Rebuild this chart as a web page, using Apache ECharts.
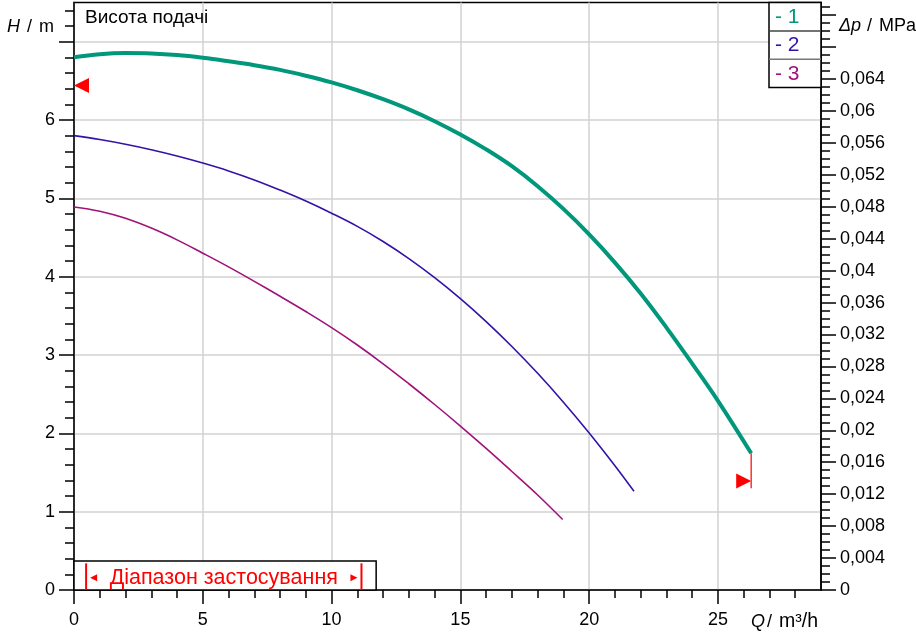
<!DOCTYPE html>
<html><head><meta charset="utf-8">
<script src="https://cdn.jsdelivr.net/npm/echarts@6/dist/echarts.min.js"></script>
<style>html,body{margin:0;padding:0;background:#fff}#c{width:916px;height:634px}</style>
</head><body><div id="c"></div>
<script>
// ---- data ----
const seriesNames = ['1', '2', '3'];
const seriesColors = ['#00977b', '#3412a8', '#a0127a'];
const seriesWidths = [4, 1.6, 1.6];

const q1 = [0,1,2,3,4,5,6,7,8,9,10,11,12,13,14,15,16,17,18,19,20,21,22,23,24,25,26.29];
const h1 = [6.80,6.84,6.855,6.85,6.83,6.795,6.75,6.70,6.64,6.565,6.48,6.38,6.265,6.135,5.985,5.815,5.625,5.41,5.155,4.865,4.54,4.18,3.785,3.35,2.89,2.415,1.745];

const q2 = [0,1,2,3,4,5,6,7,8,9,10,11,12,13,14,15,16,17,18,19,20,21,21.74];
const h2 = [5.80,5.75,5.69,5.62,5.54,5.45,5.35,5.235,5.105,4.965,4.81,4.642,4.449,4.231,3.988,3.72,3.427,3.109,2.766,2.398,2.005,1.587,1.26];

const q3 = [0,1,2,3,4,5,6,7,8,9,10,11,12,13,14,15,16,17,18,18.97];
const h3 = [4.89,4.835,4.745,4.62,4.47,4.30,4.125,3.94,3.75,3.555,3.35,3.128,2.888,2.633,2.368,2.093,1.808,1.513,1.213,0.90];

// operating limit markers [Q, H, direction]
const limitMarkers = [[0, 6.44, -1], [26.29, 1.39, 1]];
const endStop = [[26.29, 1.745, 1.30]];

// application range box
const rangeBoxQ = [0, 11.73];
const rangeBoxH = [0, 0.37];
const rangeQ = [0.47, 11.16];
const rangeBarH = 0.34;
const rangeText = 'Діапазон застосування';

// axes
const qMin = 0, qMax = 29;
const hMin = 0, hMax = 7.5;
const MPA_PER_M = 0.00981;
const xMajorTicks = [0, 5, 10, 15, 20, 25];
const xMinorTicks = [0,1,2,3,4,5,6,7,8,9,10,11,12,13,14,15,16,17,18,19,20,21,22,23,24,25,26,27,28];
const hMajorTicks = [0, 1, 2, 3, 4, 5, 6, 7];
const hLabelTicks = [0, 1, 2, 3, 4, 5, 6];
const hMinorTicks = Array.from({length: 38}, (_, i) => +(i * 0.2).toFixed(1));
const dpMajorTicks = Array.from({length: 19}, (_, i) => +(i * 0.004).toFixed(3));
const dpLabelTicks = dpMajorTicks.filter(v => v <= 0.0645);
const dpMinorTicks = Array.from({length: 74}, (_, i) => +(i * 0.001).toFixed(3));

const titleText = 'Висота подачі';

// ---- chart ----
const FONT = 'Liberation Sans, Arial, sans-serif';
const chart = echarts.init(document.getElementById('c'), null, {renderer: 'canvas'});

const lineSeries = [[q1, h1], [q2, h2], [q3, h3]].map((qh, i) => ({
  type: 'line',
  name: seriesNames[i],
  xAxisIndex: 0, yAxisIndex: 0,
  data: qh[0].map((q, k) => [q, qh[1][k]]),
  smooth: 0.4,
  showSymbol: false,
  silent: true,
  z: 5 - i,
  lineStyle: {color: seriesColors[i], width: seriesWidths[i], cap: 'butt'}
}));

const axisLineStyle = {color: '#000', width: 1.5};
const tickStyle = {color: '#000', width: 1.5};

const option = {
  animation: false,
  backgroundColor: '#fff',
  grid: {left: 74, right: 95, top: 2.5, bottom: 44, show: true, borderColor: '#000', borderWidth: 1.5, outerBoundsMode: 'none', containLabel: false},
  xAxis: [
    {type: 'value', min: qMin, max: qMax, position: 'bottom',
     axisLine: {show: true, onZero: false, lineStyle: axisLineStyle},
     axisTick: {show: true, customValues: xMinorTicks, length: 8, lineStyle: tickStyle},
     axisLabel: {show: false}, splitLine: {show: false}},
    {type: 'value', min: qMin, max: qMax, interval: 5, position: 'bottom',
     axisLine: {show: false, onZero: false},
     axisTick: {show: true, customValues: xMajorTicks, length: 14, lineStyle: tickStyle},
     axisLabel: {show: true, customValues: xMajorTicks, margin: 21, fontSize: 18, color: '#000', fontFamily: FONT},
     splitLine: {show: true, lineStyle: {color: '#d2d2d2', width: 1.5}}}
  ],
  yAxis: [
    {type: 'value', min: hMin, max: hMax, interval: 1, position: 'left',
     axisLine: {show: true, onZero: false, lineStyle: axisLineStyle},
     axisTick: {show: true, customValues: hMajorTicks, length: 15, lineStyle: tickStyle},
     axisLabel: {show: true, customValues: hLabelTicks, margin: 19, fontSize: 18, color: '#000', fontFamily: FONT},
     splitLine: {show: true, lineStyle: {color: '#d2d2d2', width: 1.5}}},
    {type: 'value', min: hMin, max: hMax, position: 'left',
     axisLine: {show: false, onZero: false},
     axisTick: {show: true, customValues: hMinorTicks, length: 9, lineStyle: tickStyle},
     axisLabel: {show: false}, splitLine: {show: false}},
    {type: 'value', min: 0, max: hMax * MPA_PER_M, position: 'right',
     axisLine: {show: true, onZero: false, lineStyle: axisLineStyle},
     axisTick: {show: true, customValues: dpMajorTicks, length: 15, lineStyle: tickStyle},
     axisLabel: {show: true, customValues: dpLabelTicks, margin: 19, fontSize: 18, color: '#000', fontFamily: FONT,
       formatter: v => String(+(+v).toFixed(3)).replace('.', ',')},
     splitLine: {show: false}},
    {type: 'value', min: 0, max: hMax * MPA_PER_M, position: 'right',
     axisLine: {show: false, onZero: false},
     axisTick: {show: true, customValues: dpMinorTicks, length: 9, lineStyle: tickStyle},
     axisLabel: {show: false}, splitLine: {show: false}}
  ],
  series: [
    ...lineSeries,
    {type: 'custom', xAxisIndex: 0, yAxisIndex: 0, silent: true, z: 8,
     data: limitMarkers,
     renderItem: (params, api) => {
       const p = api.coord([api.value(0), api.value(1)]);
       const d = api.value(2);
       return {type: 'polygon', shape: {points: [[p[0], p[1]], [p[0] - d * 15, p[1] - 7.5], [p[0] - d * 15, p[1] + 7.5]]},
               style: {fill: '#ff0000'}};
     }},
    {type: 'custom', xAxisIndex: 0, yAxisIndex: 0, silent: true, z: 8,
     data: endStop,
     renderItem: (params, api) => {
       const a = api.coord([api.value(0), api.value(1)]);
       const b = api.coord([api.value(0), api.value(2)]);
       return {type: 'line', shape: {x1: a[0], y1: a[1], x2: b[0], y2: b[1]}, style: {stroke: '#ff3030', lineWidth: 1.5}};
     }},
    {type: 'custom', xAxisIndex: 0, yAxisIndex: 0, silent: true, z: 9,
     data: [[rangeBoxQ[0], rangeBoxH[0], rangeBoxQ[1], rangeBoxH[1], rangeQ[0], rangeQ[1], rangeBarH]],
     renderItem: (params, api) => {
       const tl = api.coord([api.value(0), api.value(3)]);
       const br = api.coord([api.value(2), api.value(1)]);
       const l = api.coord([api.value(4), api.value(6)]);
       const r = api.coord([api.value(5), api.value(6)]);
       const yb = br[1];
       const yc = (l[1] + yb) / 2 + 1;
       return {type: 'group', children: [
         {type: 'rect', shape: {x: tl[0], y: tl[1], width: br[0] - tl[0], height: br[1] - tl[1]},
          style: {fill: '#fff', stroke: '#000', lineWidth: 1.5}},
         {type: 'line', shape: {x1: l[0], y1: l[1], x2: l[0], y2: yb}, style: {stroke: '#ff0000', lineWidth: 2}},
         {type: 'line', shape: {x1: r[0], y1: r[1], x2: r[0], y2: yb}, style: {stroke: '#ff0000', lineWidth: 2}},
         {type: 'polygon', shape: {points: [[l[0] + 4, yc], [l[0] + 11, yc - 3.5], [l[0] + 11, yc + 3.5]]}, style: {fill: '#ff0000'}},
         {type: 'polygon', shape: {points: [[r[0] - 4, yc], [r[0] - 11, yc - 3.5], [r[0] - 11, yc + 3.5]]}, style: {fill: '#ff0000'}},
         {type: 'text', x: (l[0] + r[0]) / 2, y: yc,
          style: {text: rangeText, fill: '#ff0000', fontSize: 21.5, fontFamily: FONT, align: 'center', verticalAlign: 'middle'}}
       ]};
     }}
  ],
  graphic: [
    {type: 'text', x: 85, y: 18, z: 20, style: {text: titleText, fill: '#000', fontSize: 19, fontFamily: FONT, align: 'left', verticalAlign: 'middle'}},
    // axis names
    {type: 'text', x: 7, y: 27, style: {text: 'H', fill: '#000', fontSize: 18, fontStyle: 'italic', fontFamily: FONT, verticalAlign: 'middle'}},
    {type: 'text', x: 27, y: 27, style: {text: '/', fill: '#000', fontSize: 18, fontFamily: FONT, verticalAlign: 'middle'}},
    {type: 'text', x: 39, y: 27, style: {text: 'm', fill: '#000', fontSize: 18, fontFamily: FONT, verticalAlign: 'middle'}},
    {type: 'text', x: 839, y: 26, style: {text: 'Δp', fill: '#000', fontSize: 18, fontStyle: 'italic', fontFamily: FONT, verticalAlign: 'middle'}},
    {type: 'text', x: 867, y: 26, style: {text: '/', fill: '#000', fontSize: 18, fontFamily: FONT, verticalAlign: 'middle'}},
    {type: 'text', x: 879, y: 26, style: {text: 'MPa', fill: '#000', fontSize: 18, fontFamily: FONT, verticalAlign: 'middle'}},
    {type: 'text', x: 751, y: 622, style: {text: 'Q', fill: '#000', fontSize: 18, fontStyle: 'italic', fontFamily: FONT, verticalAlign: 'middle'}},
    {type: 'text', x: 767, y: 622, style: {text: '/', fill: '#000', fontSize: 18, fontFamily: FONT, verticalAlign: 'middle'}},
    {type: 'text', x: 779, y: 622, style: {text: 'm³/h', fill: '#000', fontSize: 19.5, fontFamily: FONT, verticalAlign: 'middle'}},
    // legend box
    {type: 'rect', z: 20, shape: {x: 769, y: 2.5, width: 52, height: 85}, style: {fill: '#fff', stroke: '#000', lineWidth: 1.5}},
    {type: 'line', z: 21, shape: {x1: 769, y1: 31, x2: 821, y2: 31}, style: {stroke: '#444', lineWidth: 1.5}},
    {type: 'line', z: 21, shape: {x1: 769, y1: 59.3, x2: 821, y2: 59.3}, style: {stroke: '#777', lineWidth: 1.5}},
    ...seriesNames.map((n, i) => ({type: 'text', z: 22, x: 775, y: 17 + i * 28.4,
      style: {text: '- ' + n, fill: seriesColors[i], fontSize: 21, fontFamily: FONT, verticalAlign: 'middle'}}))
  ]
};
chart.setOption(option);
</script>
</body></html>
